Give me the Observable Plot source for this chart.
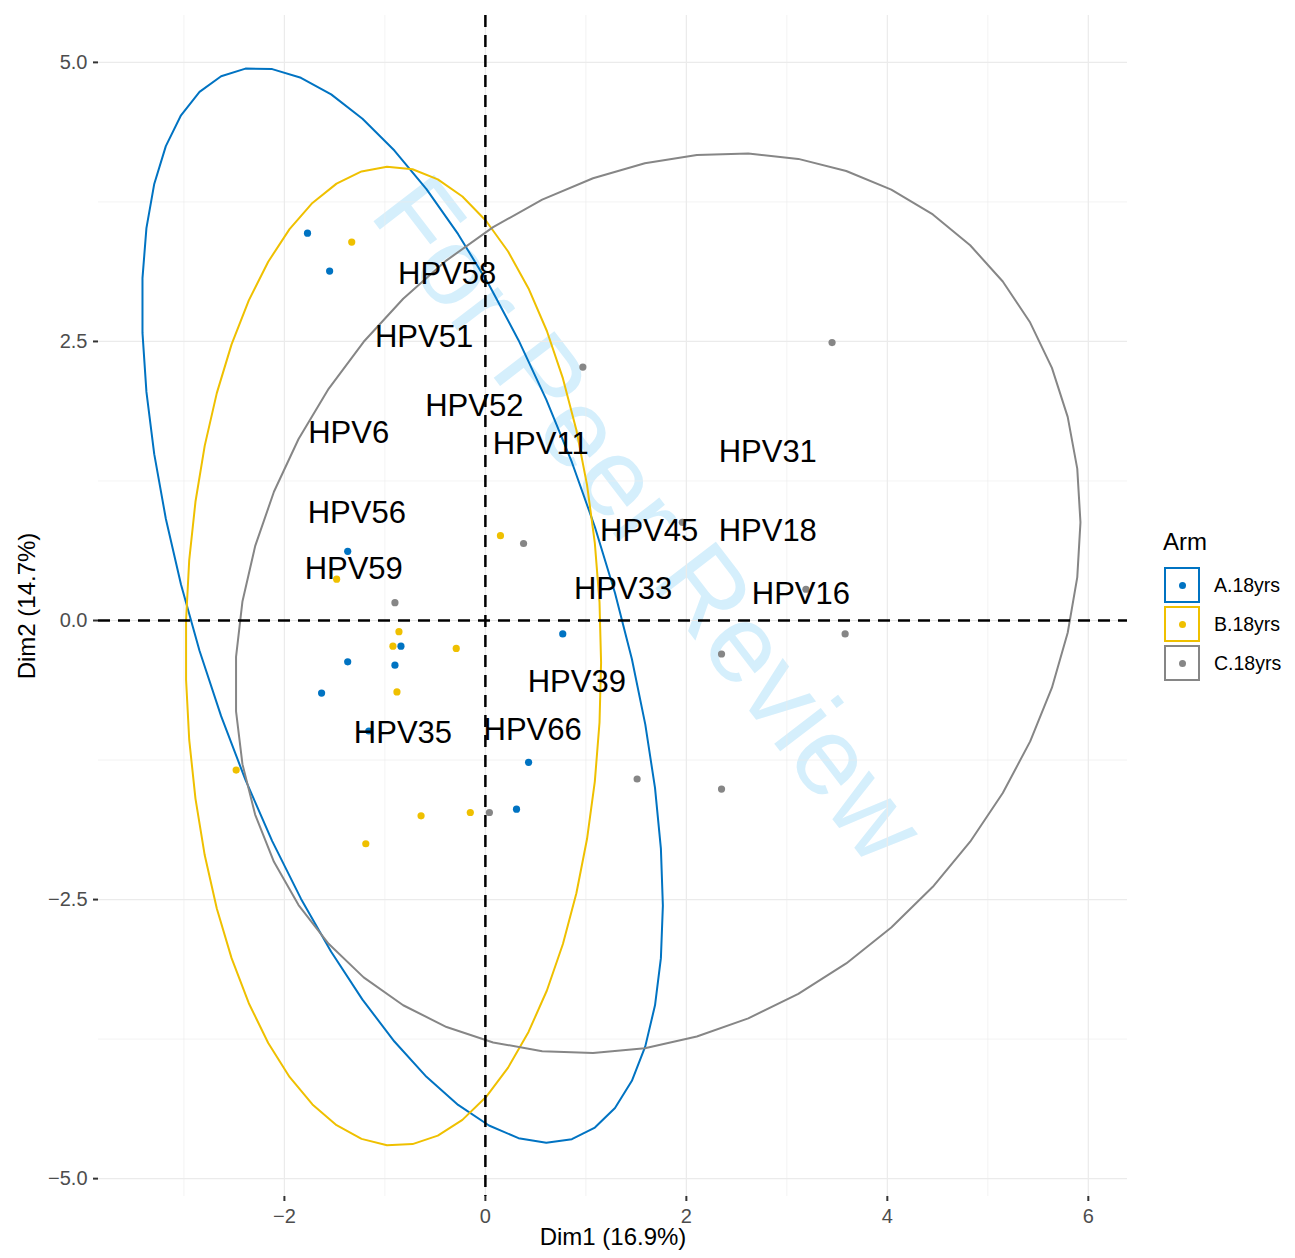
<!DOCTYPE html>
<html><head><meta charset="utf-8">
<script src="https://cdn.jsdelivr.net/npm/d3@7"></script>
<script src="https://cdn.jsdelivr.net/npm/@observablehq/plot@0.6"></script>
<style>
body{margin:0;background:#fff;font-family:"Liberation Sans",Arial,Helvetica,sans-serif;}
#wrap{position:relative;width:1295px;height:1258px;overflow:hidden;}
.lg-title{position:absolute;left:1163px;top:528px;font-size:24px;color:#000;line-height:28px;}
.lg-key{position:absolute;left:1164px;width:32px;height:32px;border:2px solid;background:#fff;}
.lg-dot{position:absolute;left:13px;top:13px;width:7px;height:7px;border-radius:50%;}
.lg-lab{position:absolute;left:1214px;font-size:19.5px;line-height:22px;color:#000;}
</style></head><body><div id="wrap"></div>
<script>
// Groups (Arm) and palette
const groups = ["A.18yrs", "B.18yrs", "C.18yrs"];
const colors = ["#0073C2", "#EFC000", "#868686"];

// Individuals: coordinates on Dim1 / Dim2, per group
const dim1A = [-1.77, -1.55, -1.37, -0.84, -0.90, -1.37, -1.63, -1.16, 0.77, 0.43, 0.31];
const dim2A = [3.47, 3.13, 0.62, -0.23, -0.40, -0.37, -0.65, -0.99, -0.12, -1.27, -1.69];
const dim1B = [-1.33, -1.48, 0.15, -0.86, -0.92, -0.29, -0.88, -2.48, -0.64, -0.15, -1.19];
const dim2B = [3.39, 0.37, 0.76, -0.10, -0.23, -0.25, -0.64, -1.34, -1.75, -1.72, -2.00];
const dim1C = [0.97, 3.45, -0.90, 0.38, 1.96, 3.19, 3.58, 2.35, 1.51, 2.35, 0.04];
const dim2C = [2.27, 2.49, 0.16, 0.69, 0.88, 0.28, -0.12, -0.30, -1.42, -1.51, -1.72];

// Variables (text labels)
const varNames = ["HPV58", "HPV51", "HPV52", "HPV6", "HPV11", "HPV31", "HPV56", "HPV45", "HPV18", "HPV59", "HPV33", "HPV16", "HPV39", "HPV35", "HPV66"];
const varDim1 = [-0.38, -0.61, -0.11, -1.36, 0.55, 2.81, -1.28, 1.63, 2.81, -1.31, 1.37, 3.14, 0.91, -0.82, 0.47];
const varDim2 = [3.10, 2.54, 1.92, 1.68, 1.58, 1.51, 0.96, 0.80, 0.80, 0.46, 0.28, 0.24, -0.55, -1.01, -0.98];

// Axis ticks
const xTicks = [-2, 0, 2, 4, 6];
const xMinor = [-3, -1, 1, 3, 5];
const yTicks = [-5, -2.5, 0, 2.5, 5];
const yMinor = [-3.75, -1.25, 1.25, 3.75];

const xTitle = "Dim1 (16.9%)";
const yTitle = "Dim2 (14.7%)";
const legendTitle = "Arm";
const watermark = "For Peer Review";

const dimX = [dim1A, dim1B, dim1C];
const dimY = [dim2A, dim2B, dim2C];

const points = [];
groups.forEach((g, gi) => dimX[gi].forEach((x, i) => points.push({group: g, x, y: dimY[gi][i]})));
const vars = varNames.map((name, i) => ({name, x: varDim1[i], y: varDim2[i]}));

// Normal-theory 95% ellipse (as ggplot2 stat_ellipse type = "norm")
function ellipse(xs, ys, group, level = 0.95, segments = 51) {
  const n = xs.length;
  const mx = d3.mean(xs), my = d3.mean(ys);
  let sxx = 0, syy = 0, sxy = 0;
  for (let i = 0; i < n; i++) {
    const dx = xs[i] - mx, dy = ys[i] - my;
    sxx += dx * dx; syy += dy * dy; sxy += dx * dy;
  }
  sxx /= n - 1; syy /= n - 1; sxy /= n - 1;
  const dfd = n - 1;
  const fq = (dfd / 2) * (Math.pow(1 - level, -2 / dfd) - 1); // qf(level, 2, dfd)
  const radius = Math.sqrt(2 * fq);
  const r11 = Math.sqrt(sxx), r12 = sxy / r11, r22 = Math.sqrt(syy - r12 * r12);
  return d3.range(segments + 1).map(k => {
    const a = k * 2 * Math.PI / segments;
    const c = Math.cos(a), s = Math.sin(a);
    return {group, x: mx + radius * c * r11, y: my + radius * (c * r12 + s * r22)};
  });
}
const ellipses = groups.flatMap((g, gi) => ellipse(dimX[gi], dimY[gi], g));

const font = '"Liberation Sans", Arial, Helvetica, sans-serif';

const plot = Plot.plot({
  width: 1295,
  height: 1258,
  marginLeft: 98,
  marginRight: 168,
  marginTop: 15,
  marginBottom: 62,
  style: {fontFamily: font, background: "transparent", overflow: "visible"},
  x: {domain: [-3.85, 6.39], axis: null},
  y: {domain: [-5.16, 5.42], axis: null},
  color: {domain: groups, range: colors},
  marks: [
    Plot.ruleX(xMinor, {stroke: "#EBEBEB", strokeWidth: 0.6}),
    Plot.ruleY(yMinor, {stroke: "#EBEBEB", strokeWidth: 0.6}),
    Plot.ruleX(xTicks, {stroke: "#EBEBEB", strokeWidth: 1.2}),
    Plot.ruleY(yTicks, {stroke: "#EBEBEB", strokeWidth: 1.2}),
    Plot.axisX({ticks: xTicks, tickFormat: d3.format("d"), tickSize: 5, tickPadding: 7, fontSize: 20, stroke: "#333333", strokeWidth: 2, fill: "#4D4D4D", label: null}),
    Plot.axisY({ticks: yTicks, tickFormat: d3.format(".1f"), tickSize: 5, tickPadding: 6, fontSize: 20, stroke: "#333333", strokeWidth: 2, fill: "#4D4D4D", label: null}),
    Plot.dot(points, {x: "x", y: "y", fill: "group", r: 3.6}),
    Plot.line(ellipses, {x: "x", y: "y", z: "group", stroke: "group", strokeWidth: 2, curve: "linear"}),
    Plot.text(vars, {x: "x", y: "y", text: "name", fontSize: 31, fill: "#000"}),
    Plot.ruleX([0], {stroke: "#000", strokeWidth: 2.5, strokeDasharray: "12,8"}),
    Plot.ruleY([0], {stroke: "#000", strokeWidth: 2.5, strokeDasharray: "12,8"}),
    Plot.text([xTitle], {frameAnchor: "bottom", dy: 48, text: d => d, fontSize: 24, fill: "#000"}),
    Plot.text([yTitle], {frameAnchor: "left", textAnchor: "middle", dx: -71, rotate: -90, text: d => d, fontSize: 24, fill: "#000"})
  ]
});

const wrap = document.getElementById("wrap");
wrap.appendChild(plot);

// Watermark behind everything
d3.select(plot).insert("text", ":first-child")
  .attr("transform", "translate(368,214) rotate(52.5)")
  .attr("font-size", 111)
  .attr("font-family", font)
  .attr("fill", "#D5EFFC")
  .attr("text-anchor", "start")
  .text(watermark);

// Legend
const lt = document.createElement("div");
lt.className = "lg-title"; lt.textContent = legendTitle; wrap.appendChild(lt);
groups.forEach((g, i) => {
  const top = 567 + i * 39;
  const key = document.createElement("div");
  key.className = "lg-key"; key.style.top = top + "px"; key.style.borderColor = colors[i];
  const dot = document.createElement("div");
  dot.className = "lg-dot"; dot.style.background = colors[i];
  key.appendChild(dot); wrap.appendChild(key);
  const lab = document.createElement("div");
  lab.className = "lg-lab"; lab.style.top = (top + 7) + "px"; lab.textContent = g;
  wrap.appendChild(lab);
});
</script></body></html>
